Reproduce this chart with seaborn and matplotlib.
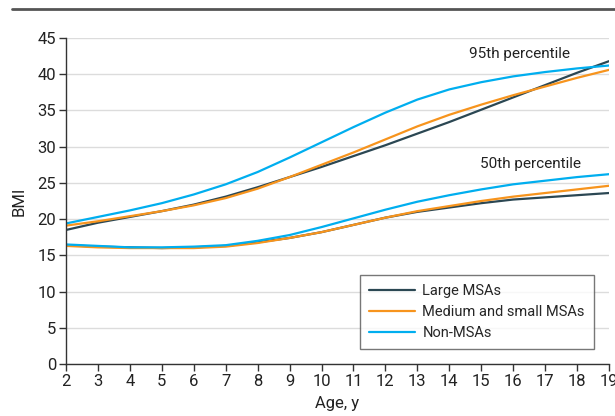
import numpy as np
import pandas as pd
import seaborn as sns
import matplotlib.pyplot as plt

AGES = list(range(2, 20))
REGIONS = ["Large MSAs", "Medium and small MSAs", "Non-MSAs"]

# 95th percentile BMI by age
P95_LARGE = [18.5, 19.5, 20.3, 21.1, 22.0, 23.1, 24.4, 25.8, 27.2, 28.7, 30.2, 31.8, 33.4, 35.1, 36.8, 38.5, 40.2, 41.8]
P95_MEDIUM = [19.1, 19.7, 20.4, 21.1, 21.9, 22.9, 24.2, 25.8, 27.5, 29.2, 31.0, 32.8, 34.4, 35.8, 37.1, 38.3, 39.5, 40.6]
P95_NON = [19.4, 20.3, 21.2, 22.2, 23.4, 24.8, 26.5, 28.5, 30.6, 32.7, 34.7, 36.5, 37.9, 38.9, 39.7, 40.3, 40.8, 41.2]

# 50th percentile BMI by age
P50_LARGE = [16.4, 16.2, 16.1, 16.0, 16.1, 16.3, 16.8, 17.4, 18.2, 19.2, 20.2, 21.0, 21.6, 22.2, 22.7, 23.0, 23.3, 23.6]
P50_MEDIUM = [16.3, 16.1, 16.0, 16.0, 16.0, 16.2, 16.7, 17.4, 18.2, 19.2, 20.2, 21.1, 21.8, 22.5, 23.1, 23.6, 24.1, 24.6]
P50_NON = [16.5, 16.3, 16.1, 16.1, 16.2, 16.4, 17.0, 17.8, 18.9, 20.1, 21.3, 22.4, 23.3, 24.1, 24.8, 25.3, 25.8, 26.2]

COLORS = ["#2b4753", "#f7941d", "#00aeef"]


def build_frame():
    rows = []
    series = {
        ("Large MSAs", "95th"): P95_LARGE,
        ("Medium and small MSAs", "95th"): P95_MEDIUM,
        ("Non-MSAs", "95th"): P95_NON,
        ("Large MSAs", "50th"): P50_LARGE,
        ("Medium and small MSAs", "50th"): P50_MEDIUM,
        ("Non-MSAs", "50th"): P50_NON,
    }
    for (region, pct), vals in series.items():
        for a, v in zip(AGES, vals):
            rows.append({"age": a, "bmi": v, "region": region, "pct": pct})
    return pd.DataFrame(rows)


def main():
    sns.set_style("white")
    plt.rcParams["font.family"] = ["Roboto", "DejaVu Sans"]
    plt.rcParams["font.size"] = 11

    df = build_frame()
    fig = plt.figure(figsize=(6.15, 4.16), dpi=100)
    ax = fig.add_axes([0.1073, 0.125, 0.883, 0.7837])

    sns.lineplot(data=df, x="age", y="bmi", hue="region", units="pct", estimator=None,
                 hue_order=REGIONS, palette=COLORS, linewidth=1.6, ax=ax)

    ax.set_xlim(2, 19)
    ax.set_ylim(0, 45)
    ax.set_xticks(AGES)
    ax.set_yticks(range(0, 46, 5))
    ax.yaxis.grid(True, color="#dcdcdc", linewidth=1)
    ax.set_axisbelow(True)
    for s in ["top", "right"]:
        ax.spines[s].set_visible(False)
    for s in ["left", "bottom"]:
        ax.spines[s].set_color("#333333")
        ax.spines[s].set_linewidth(1)
    ax.tick_params(axis="both", direction="out", length=5, width=1, color="#333333",
                   labelsize=12, labelcolor="#222222", left=True, bottom=True, pad=2)
    for lab in ax.get_xticklabels():
        lab.set_clip_on(False)

    ax.set_xlabel("Age, y", fontsize=12, color="#222222", labelpad=5)
    ax.set_ylabel("BMI", fontsize=12, color="#222222", labelpad=8)

    ax.text(16.2, 42.8, "95th percentile", ha="center", va="center", fontsize=11, color="#222222")
    ax.text(16.55, 27.6, "50th percentile", ha="center", va="center", fontsize=11, color="#222222")

    handles, labels = ax.get_legend_handles_labels()
    leg = ax.legend(handles, labels, loc="upper left", bbox_to_anchor=(0.541, 0.273),
                    frameon=True, fancybox=False, edgecolor="#555555", fontsize=10.5,
                    handlelength=3.2, handletextpad=0.5, borderpad=0.6, labelspacing=0.5,
                    borderaxespad=0)
    leg.get_frame().set_linewidth(1)

    fig.add_artist(plt.Line2D([0.02, 1.0], [0.978, 0.978], color="#555555", linewidth=2,
                              transform=fig.transFigure))

    fig.savefig("out.png", dpi=100)
    plt.close(fig)


if __name__ == "__main__":
    main()
